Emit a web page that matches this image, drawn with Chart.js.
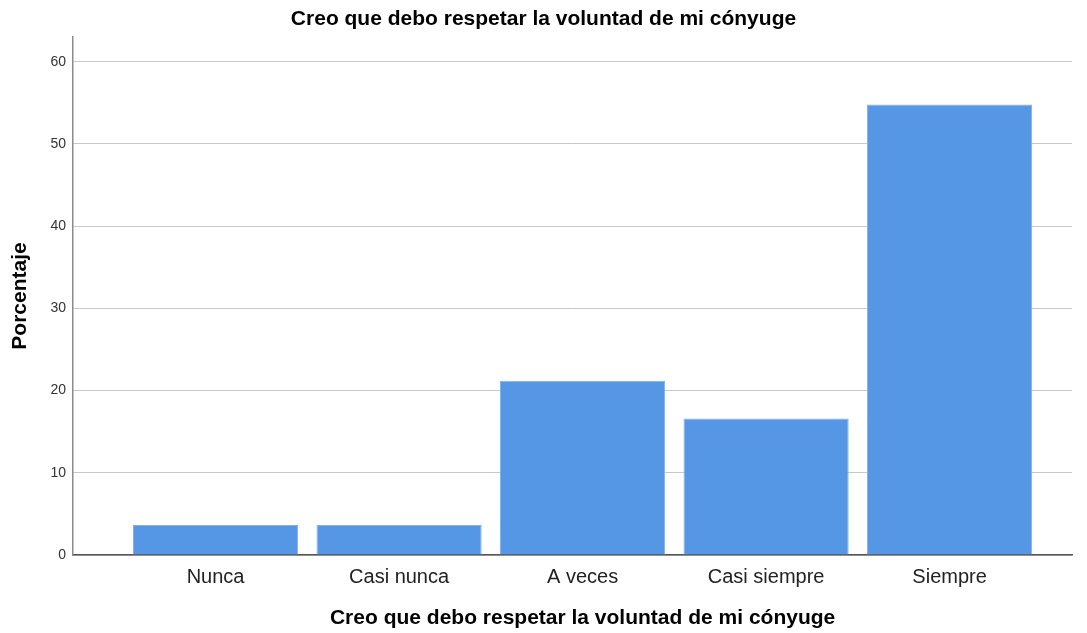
<!DOCTYPE html>
<html>
<head>
<meta charset="utf-8">
<script src="https://cdn.jsdelivr.net/npm/chart.js@4/dist/chart.umd.min.js"></script>
<style>
  html, body { margin: 0; padding: 0; background: #fff; }
  #chart { display: block; }
</style>
</head>
<body>
<canvas id="chart" width="1087" height="633"></canvas>
<script>
const chartTitle = 'Creo que debo respetar la voluntad de mi cónyuge';
const xTitle     = 'Creo que debo respetar la voluntad de mi cónyuge';
const yTitle     = 'Porcentaje';
const categories  = ['Nunca', 'Casi nunca', 'A veces', 'Casi siempre', 'Siempre'];
const percentages = [3.65, 3.65, 21.2, 16.6, 54.8];
const yTicks      = [0, 10, 20, 30, 40, 50, 60];

const FONT = '"Liberation Sans", Arial, sans-serif';
const BAR  = '#5596e5';

// titles drawn by hand so the axis title sits under the middle bar
const titles = {
  id: 'titles',
  afterDraw(chart) {
    const { ctx } = chart;
    ctx.save();
    ctx.fillStyle = '#000';
    ctx.font = `bold 21px ${FONT}`;
    ctx.textAlign = 'center';
    ctx.textBaseline = 'middle';
    ctx.fillText(chartTitle, chart.width / 2, 19);
    ctx.fillText(xTitle, chart.scales.x.getPixelForValue(2), 618);
    ctx.restore();
  },
};

new Chart(document.getElementById('chart'), {
  type: 'bar',
  data: {
    datasets: [{
      data: percentages.map((v, i) => ({ x: i, y: v })),
      backgroundColor: BAR,
      borderColor: '#7fb0ec',
      borderWidth: 1,
      categoryPercentage: 1,
      barPercentage: 0.9,
    }],
  },
  options: {
    responsive: false,
    animation: false,
    layout: { padding: { top: 37, right: 15, left: 0, bottom: 0 } },
    plugins: {
      legend:  { display: false },
      tooltip: { enabled: false },
      title:   { display: false },
    },
    scales: {
      x: {
        type: 'linear',
        offset: false,
        min: -0.777,
        max: 4.667,
        afterBuildTicks: s => { s.ticks = categories.map((c, i) => ({ value: i })); },
        afterFit: s => { s.height = 78; },
        ticks: {
          autoSkip: false,
          maxRotation: 0,
          padding: 10,
          color: '#222',
          font: { size: 20, family: FONT },
          callback: v => categories[v],
        },
        grid:   { color: 'rgba(0,0,0,0)', drawTicks: false },
        border: { color: '#555', width: 1.5 },
      },
      y: {
        min: 0,
        max: 63,
        afterBuildTicks: s => { s.ticks = yTicks.map(v => ({ value: v })); },
        afterFit: s => { s.width = 73; },
        ticks: {
          padding: 7,
          color: '#333',
          font: { size: 14, family: FONT },
        },
        grid:   { color: '#c8c8c8', lineWidth: 1, drawTicks: false },
        border: { color: '#8c8c8c', width: 1.5 },
        title: {
          display: true,
          text: yTitle,
          color: '#000',
          padding: { top: 8, bottom: 0 },
          font: { size: 21, weight: 'bold', family: FONT },
        },
      },
    },
  },
  plugins: [titles],
});
</script>
</body>
</html>
